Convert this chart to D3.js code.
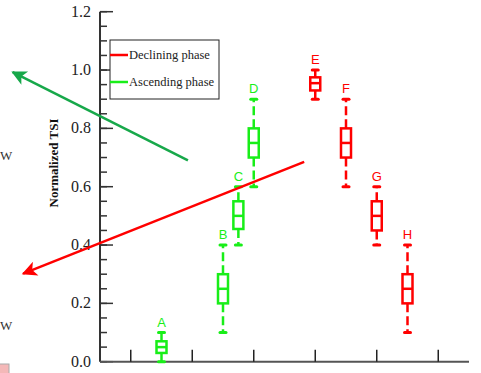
<!DOCTYPE html>
<html>
<head>
<meta charset="utf-8">
<script src="https://cdn.jsdelivr.net/npm/d3@7"></script>
<style>
  body { margin: 0; background: #fff; }
  svg { display: block; }
</style>
</head>
<body>
<div id="chart"></div>
<script>
// box plot stats per stage (whisker low, q1, median, q3, whisker high)
var labels = ["A", "B", "C", "D", "E", "F", "G", "H"];
var positions = [1.5, 2.5, 2.75, 3, 4, 4.5, 5, 5.5];
var phases = ["asc", "asc", "asc", "asc", "dec", "dec", "dec", "dec"];
var lows = [0.0, 0.1, 0.4, 0.6, 0.9, 0.6, 0.4, 0.1];
var q1s = [0.03, 0.2, 0.455, 0.7, 0.93, 0.7, 0.45, 0.2];
var medians = [0.05, 0.25, 0.5, 0.75, 0.955, 0.75, 0.5, 0.25];
var q3s = [0.07, 0.3, 0.55, 0.8, 0.975, 0.8, 0.55, 0.3];
var highs = [0.1, 0.4, 0.6, 0.9, 1.0, 0.9, 0.6, 0.4];
var yTicks = [0, 0.2, 0.4, 0.6, 0.8, 1.0, 1.2];
var xTicks = [1, 2, 3, 4, 5, 6];
var legendNames = ["Declining phase", "Ascending phase"];
// annotation arrows in data units [x1, y1, x2, y2]
var greenArrow = [1.93, 0.69, -0.92, 0.993];
var redArrow = [3.82, 0.685, -0.75, 0.302];

var colors = { asc: "#18ee18", dec: "#ff0000" };
var width = 481, height = 373;

var svg = d3.select("#chart").append("svg")
    .attr("width", width)
    .attr("height", height);

var x = d3.scaleLinear().domain([0.5, 6.5]).range([100, 469]);
var y = d3.scaleLinear().domain([0, 1.2]).range([361.7, 11.7]);

// cropped leftovers at the left edge
svg.append("text").attr("x", 0).attr("y", 160)
    .style("font-family", "Liberation Serif").style("font-size", "13px").style("fill", "#333").text("W");
svg.append("text").attr("x", 0).attr("y", 330)
    .style("font-family", "Liberation Serif").style("font-size", "13px").style("fill", "#333").text("W");
svg.append("rect").attr("x", -2).attr("y", 364).attr("width", 11).attr("height", 12)
    .style("fill", "#f4b8b8").style("stroke", "#aaa");

// y axis
var yAxis = svg.append("g").attr("transform", "translate(100,0)");
yAxis.append("line").attr("x1", 0).attr("x2", 0).attr("y1", y(0)).attr("y2", y(1.2))
    .style("stroke", "#333").style("stroke-width", 2);
yAxis.selectAll(".minor").data(d3.range(0, 1.2001, 0.05)).enter().append("line")
    .attr("x1", 0).attr("x2", 7)
    .attr("y1", function (d) { return y(d); }).attr("y2", function (d) { return y(d); })
    .style("stroke", "#333").style("stroke-width", 1.5);
yAxis.selectAll(".major").data(yTicks).enter().append("line")
    .attr("x1", 0).attr("x2", 13)
    .attr("y1", function (d) { return y(d); }).attr("y2", function (d) { return y(d); })
    .style("stroke", "#333").style("stroke-width", 1.5);
yAxis.selectAll(".lbl").data(yTicks).enter().append("text")
    .attr("x", -9).attr("y", function (d) { return y(d) + 5; })
    .style("text-anchor", "end")
    .style("font-family", "Liberation Serif").style("font-size", "16px").style("fill", "#222")
    .text(function (d) { return d.toFixed(1); });

svg.append("text")
    .attr("transform", "translate(58,163) rotate(-90)")
    .style("text-anchor", "middle")
    .style("font-family", "Liberation Serif").style("font-weight", "bold").style("font-size", "13px")
    .style("fill", "#111")
    .text("Normalized TSI");

// x axis
svg.append("line").attr("x1", 100).attr("x2", x(6.5)).attr("y1", y(0)).attr("y2", y(0))
    .style("stroke", "#555").style("stroke-width", 2);
svg.selectAll(".xt").data(xTicks).enter().append("line")
    .attr("x1", function (d) { return x(d); }).attr("x2", function (d) { return x(d); })
    .attr("y1", y(0)).attr("y2", y(0) - 12)
    .style("stroke", "#222").style("stroke-width", 1.5);

// boxes
var data = labels.map(function (l, i) {
    return { label: l, pos: positions[i], phase: phases[i], lo: lows[i], q1: q1s[i], med: medians[i], q3: q3s[i], hi: highs[i] };
});
var bw = 10;
var g = svg.selectAll(".box").data(data).enter().append("g")
    .style("stroke", function (d) { return colors[d.phase]; })
    .style("fill", "none");

g.append("line").attr("class", "whisker")
    .attr("x1", function (d) { return x(d.pos); }).attr("x2", function (d) { return x(d.pos); })
    .attr("y1", function (d) { return y(d.q3); }).attr("y2", function (d) { return y(d.hi); })
    .style("stroke-width", 2.5).style("stroke-dasharray", "9,4");
g.append("line").attr("class", "whisker")
    .attr("x1", function (d) { return x(d.pos); }).attr("x2", function (d) { return x(d.pos); })
    .attr("y1", function (d) { return y(d.q1); }).attr("y2", function (d) { return y(d.lo); })
    .style("stroke-width", 2.5).style("stroke-dasharray", "9,4");
g.append("line")
    .attr("x1", function (d) { return x(d.pos) - 3; }).attr("x2", function (d) { return x(d.pos) + 3; })
    .attr("y1", function (d) { return y(d.hi); }).attr("y2", function (d) { return y(d.hi); })
    .style("stroke-width", 3).style("stroke-linecap", "round");
g.append("line")
    .attr("x1", function (d) { return x(d.pos) - 3; }).attr("x2", function (d) { return x(d.pos) + 3; })
    .attr("y1", function (d) { return y(d.lo); }).attr("y2", function (d) { return y(d.lo); })
    .style("stroke-width", 3).style("stroke-linecap", "round");
g.append("rect")
    .attr("x", function (d) { return x(d.pos) - bw / 2; })
    .attr("y", function (d) { return y(d.q3); })
    .attr("width", bw)
    .attr("height", function (d) { return y(d.q1) - y(d.q3); })
    .style("fill", "#fff").style("stroke-width", 2.5);
g.append("line")
    .attr("x1", function (d) { return x(d.pos) - bw / 2; }).attr("x2", function (d) { return x(d.pos) + bw / 2; })
    .attr("y1", function (d) { return y(d.med); }).attr("y2", function (d) { return y(d.med); })
    .style("stroke-width", 2.5);
g.append("text")
    .attr("x", function (d) { return x(d.pos); })
    .attr("y", function (d) { return y(d.hi) - 6; })
    .style("text-anchor", "middle")
    .style("font-family", "Liberation Sans").style("font-size", "13px")
    .style("stroke", "none")
    .style("fill", function (d) { return colors[d.phase]; })
    .text(function (d) { return d.label; });

// legend
var legend = svg.append("g");
legend.append("rect").attr("x", 110).attr("y", 40).attr("width", 109).attr("height", 59)
    .style("fill", "#fff").style("stroke", "#222").style("stroke-width", 1);
legend.selectAll(".ll").data(legendNames).enter().append("line")
    .attr("x1", 110).attr("x2", 128)
    .attr("y1", function (d, i) { return 55 + i * 27; }).attr("y2", function (d, i) { return 55 + i * 27; })
    .style("stroke", function (d, i) { return i === 0 ? colors.dec : colors.asc; })
    .style("stroke-width", 2.5);
legend.selectAll(".lt").data(legendNames).enter().append("text")
    .attr("x", 129).attr("y", function (d, i) { return 59 + i * 27; })
    .style("font-family", "Liberation Serif").style("font-size", "12.5px").style("fill", "#222")
    .text(function (d) { return d; });

// arrows
var defs = svg.append("defs");
[["gArrow", "#17a84a"], ["rArrow", "#ff0000"]].forEach(function (m) {
    defs.append("marker").attr("id", m[0])
        .attr("viewBox", "0 0 10 10").attr("refX", 9).attr("refY", 5)
        .attr("markerWidth", 7.5).attr("markerHeight", 6).attr("orient", "auto")
        .attr("markerUnits", "strokeWidth")
        .append("path").attr("d", "M0,0L10,5L0,10L2.5,5z").style("fill", m[1]);
});
svg.append("line")
    .attr("x1", x(greenArrow[0])).attr("y1", y(greenArrow[1]))
    .attr("x2", x(greenArrow[2])).attr("y2", y(greenArrow[3]))
    .style("stroke", "#17a84a").style("stroke-width", 2.5)
    .attr("marker-end", "url(#gArrow)");
svg.append("line")
    .attr("x1", x(redArrow[0])).attr("y1", y(redArrow[1]))
    .attr("x2", x(redArrow[2])).attr("y2", y(redArrow[3]))
    .style("stroke", "#ff0000").style("stroke-width", 2.5)
    .attr("marker-end", "url(#rArrow)");
</script>
</body>
</html>
